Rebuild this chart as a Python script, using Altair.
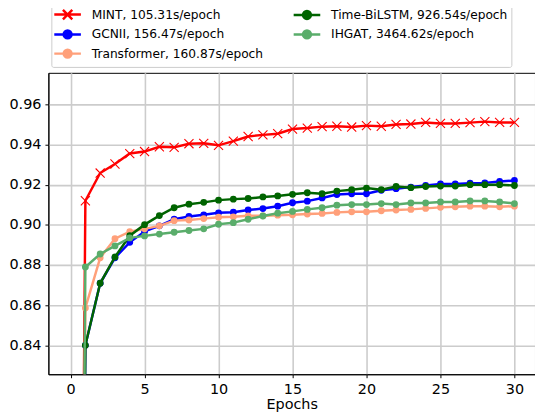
import altair as alt
import pandas as pd

epochs = list(range(0, 31))
labels = [
    "MINT, 105.31s/epoch",
    "GCNII, 156.47s/epoch",
    "Transformer, 160.87s/epoch",
    "Time-BiLSTM, 926.54s/epoch",
    "IHGAT, 3464.62s/epoch",
]
colors = ["#ff0000", "#0000ff", "#ffa07a", "#006400", "#5aad6b"]

mint = [0.0, 0.912, 0.9258, 0.9303, 0.9355, 0.9365, 0.9389, 0.9386, 0.9404, 0.9406,
        0.9396, 0.9417, 0.9440, 0.9448, 0.9454, 0.9477, 0.9482, 0.9489, 0.9491, 0.9487,
        0.9494, 0.9491, 0.9500, 0.9502, 0.9510, 0.9505, 0.9505, 0.9509, 0.9514, 0.9510, 0.9510]
gcnii = [0.0, 0.840, 0.8709, 0.8836, 0.8913, 0.8967, 0.8995, 0.9028, 0.9042, 0.9050,
         0.9060, 0.9063, 0.9074, 0.9081, 0.9093, 0.9110, 0.9118, 0.9134, 0.9151, 0.9155,
         0.9155, 0.9172, 0.9180, 0.9188, 0.9196, 0.9204, 0.9204, 0.9207, 0.9209, 0.9216, 0.9221]
transformer = [0.0, 0.8586, 0.8836, 0.8931, 0.8966, 0.8980, 0.8995, 0.9021, 0.9024, 0.9031,
               0.9038, 0.9040, 0.9045, 0.9045, 0.9048, 0.9050, 0.9054, 0.9057, 0.9062, 0.9065,
               0.9065, 0.9070, 0.9074, 0.9077, 0.9082, 0.9087, 0.9090, 0.9093, 0.9093, 0.9090, 0.9093]
bilstm = [0.0, 0.840, 0.8709, 0.8840, 0.8946, 0.9001, 0.9046, 0.9085, 0.9103, 0.9112,
          0.9123, 0.9128, 0.9131, 0.9139, 0.9144, 0.9152, 0.9160, 0.9155, 0.9168, 0.9175,
          0.9183, 0.9175, 0.9191, 0.9185, 0.9191, 0.9193, 0.9193, 0.9200, 0.9200, 0.9200, 0.9196]
ihgat = [0.0, 0.879, 0.8855, 0.8895, 0.8935, 0.8945, 0.8954, 0.8963, 0.8972, 0.8980,
         0.9003, 0.9011, 0.9028, 0.9044, 0.9058, 0.9067, 0.9077, 0.9085, 0.9098, 0.9101,
         0.9101, 0.9106, 0.9101, 0.9109, 0.9109, 0.9114, 0.9114, 0.9119, 0.9119, 0.9114, 0.9106]

x_ticks = [0, 5, 10, 15, 20, 25, 30]
y_ticks = [0.84, 0.86, 0.88, 0.90, 0.92, 0.94, 0.96]

series = [mint, gcnii, transformer, bilstm, ihgat]
rows = []
for lab, vals in zip(labels, series):
    for e, v in zip(epochs, vals):
        rows.append({"epoch": e, "acc": v, "model": lab})
df = pd.DataFrame(rows)

# legend symbols: line with marker (custom paths, scaled by sqrt(size)/2 = 5px)
line_part = "M-2.7,0L2.7,0"
circle_part = "M-0.8,0A0.8,0.8 0 1,0 0.8,0A0.8,0.8 0 1,0 -0.8,0Z"
x_part = "M-0.95,-0.95L0.95,0.95M-0.95,0.95L0.95,-0.95"
leg_paths = [line_part + x_part if l == labels[0] else line_part + circle_part for l in labels]
x_marker = "M-1,-1L1,1M-1,1L1,-1"

FONT = "DejaVu Sans"

x_enc = alt.X(
    "epoch:Q",
    scale=alt.Scale(domain=[-1.5, 31.39], nice=False, zero=False),
    axis=alt.Axis(values=x_ticks, title="Epochs", format="d"),
)
y_enc = alt.Y(
    "acc:Q",
    scale=alt.Scale(domain=[0.8256, 0.9757], nice=False, zero=False),
    axis=alt.Axis(values=y_ticks, title=None, format=".2f"),
)
color_scale = alt.Scale(domain=labels, range=colors)

legend = alt.Legend(
    title=None,
    orient="none",
    legendX=3,
    legendY=-70,
    columns=2,
    columnPadding=26,
    rowPadding=0.5,
    symbolSize=100,
    symbolStrokeWidth=2.5,
    symbolOpacity=1,
    symbolOffset=6,
    labelFont=FONT,
    labelFontSize=12.4,
    labelColor="#000000",
    labelOffset=18,
    labelLimit=300,
    padding=4,
    strokeColor="#cccccc",
    fillColor="#ffffff",
    cornerRadius=2,
)

base = alt.Chart(df)
layers = []
legend_layer = base.transform_filter("false").mark_point(filled=True, opacity=1, clip=True).encode(
    x=x_enc,
    y=y_enc,
    color=alt.Color("model:N", scale=color_scale, legend=legend),
    stroke=alt.Stroke("model:N", scale=alt.Scale(domain=labels, range=colors), legend=legend),
    shape=alt.Shape("model:N", scale=alt.Scale(domain=labels, range=leg_paths), legend=legend),
)
layers.append(legend_layer)

for lab in labels:
    sub = base.transform_filter(alt.datum.model == lab)
    col = alt.Color("model:N", scale=color_scale, legend=None)
    layers.append(
        sub.mark_line(clip=True, strokeWidth=2.5).encode(x=x_enc, y=y_enc, color=col)
    )
    if lab == labels[0]:
        layers.append(
            sub.mark_point(clip=True, shape=x_marker, filled=False, size=85,
                           strokeWidth=1.1, opacity=1).encode(x=x_enc, y=y_enc, color=col)
        )
    else:
        layers.append(
            sub.mark_point(clip=True, shape="circle", filled=True, size=48,
                           opacity=1).encode(x=x_enc, y=y_enc, color=col)
        )

chart = alt.layer(*layers).properties(
    width=494,
    height=306,
    autosize=alt.AutoSizeParams(type="none"),
    padding={"left": 41, "top": 62.7, "right": 0, "bottom": 42},
).configure_view(
    stroke="#000000", strokeWidth=1
).configure_axis(
    labelFont=FONT,
    labelFontSize=14.6,
    labelColor="#000000",
    titleFont=FONT,
    titleFontSize=14.6,
    titleFontWeight="normal",
    titleColor="#000000",
    domainColor="#000000",
    domainWidth=1,
    tickColor="#000000",
    tickSize=3.5,
    tickWidth=1,
    gridColor="#cccccc",
    gridWidth=1.6,
    grid=True,
).configure_axisX(
    labelPadding=4, titlePadding=1
).configure_axisY(
    labelPadding=4
)

chart.save("out.html", embed_options={"renderer": "svg", "actions": False})
